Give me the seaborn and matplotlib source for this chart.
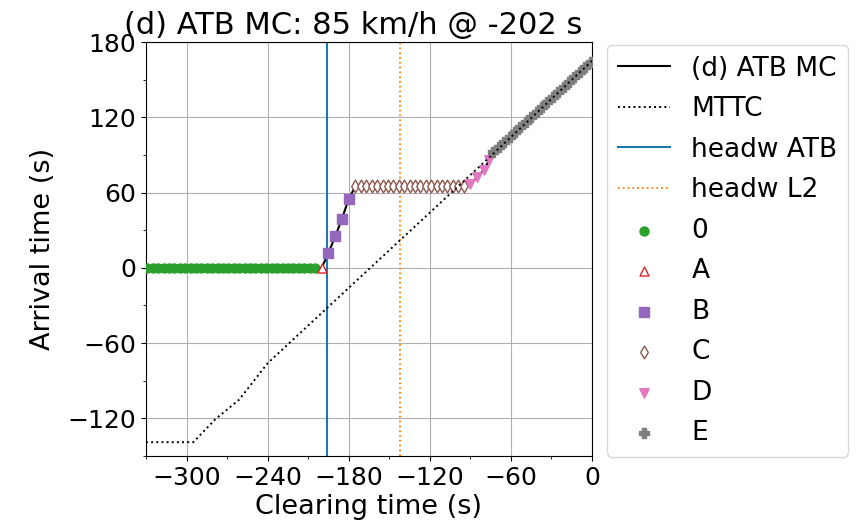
import matplotlib
matplotlib.use("Agg")
import matplotlib.pyplot as plt
from matplotlib.ticker import AutoMinorLocator
import pandas as pd
import seaborn as sns

title = "(d) ATB MC: 85 km/h @ -202 s"
xlabel = "Clearing time (s)"
ylabel = "Arrival time (s)"

zero_x = [-329, -325, -321, -317, -313, -309, -305, -301, -297, -293, -289,
          -285, -281, -277, -273, -269, -265, -261, -257, -253, -249, -245,
          -241, -237, -233, -229, -225, -221, -217, -213, -209, -205]
zero_y = [0] * len(zero_x)

a_x = [-200]
a_y = [0]

b_x = [-195, -190, -185, -180]
b_y = [12, 25, 39, 55]

c_x = [-175, -171, -167, -163, -159, -155, -151, -147, -143, -139, -135,
       -131, -127, -123, -119, -115, -111, -107, -103, -99, -95]
c_y = [65] * len(c_x)

d_x = [-90, -85, -80, -76]
d_y = [67, 72, 78, 86]

e_x = [-73, -69, -65, -61, -57, -53, -49, -45, -41, -37, -33, -29, -25, -21,
       -17, -13, -9, -5, -1]
e_y = [92, 96, 100, 104, 108, 112, 116, 120, 124, 128, 132, 136, 140, 144,
       148, 152, 156, 160, 164]

mttc_x = [-330, -295, -279, -261, -240, -73, 0]
mttc_y = [-139, -139, -121, -105, -76, 91, 165]

headw_atb = -196
headw_l2 = -142

xticks = [-300, -240, -180, -120, -60, 0]
yticks = [-120, -60, 0, 60, 120, 180]

main_df = pd.DataFrame({
    "x": zero_x + a_x + b_x + c_x + d_x + e_x,
    "y": zero_y + a_y + b_y + c_y + d_y + e_y,
})
mttc_df = pd.DataFrame({"x": mttc_x, "y": mttc_y})

fig = plt.figure(figsize=(8.66, 5.25), dpi=100)
ax = fig.add_axes([146 / 866, 1 - 456 / 525, (592 - 146) / 866, (456 - 42) / 525])

sns.lineplot(data=main_df, x="x", y="y", sort=False, estimator=None,
             color="black", linewidth=1.5, label="(d) ATB MC", ax=ax, zorder=2)
sns.lineplot(data=mttc_df, x="x", y="y", sort=False, estimator=None,
             color="black", linewidth=1.4, linestyle=":", label="MTTC", ax=ax, zorder=4)
ax.axvline(headw_atb, color="tab:blue", linewidth=1.5, label="headw ATB", zorder=2)
ax.axvline(headw_l2, color="tab:orange", linewidth=1.3, linestyle=":", label="headw L2", zorder=2)

series = [
    ("0", zero_x, zero_y, "o", "tab:green", "tab:green", 42),
    ("A", a_x, a_y, "^", "white", "tab:red", 42),
    ("B", b_x, b_y, "s", "tab:purple", "tab:purple", 42),
    ("C", c_x, c_y, "d", "white", "tab:brown", 42),
    ("D", d_x, d_y, "v", "tab:pink", "tab:pink", 46),
    ("E", e_x, e_y, "P", "tab:gray", "tab:gray", 50),
]
for lab, xs, ys, mk, fc, ec, sz in series:
    sns.scatterplot(x=xs, y=ys, marker=mk, s=sz, color=ec, facecolor=fc,
                    edgecolor=ec, linewidth=1.0, label=lab, ax=ax, zorder=3)

ax.set_xlim(-330, 0)
ax.set_ylim(-150, 180)
ax.set_xticks(xticks)
ax.set_yticks(yticks)
ax.xaxis.set_minor_locator(AutoMinorLocator(2))
ax.yaxis.set_minor_locator(AutoMinorLocator(2))
ax.tick_params(axis="both", which="major", labelsize=18)
ax.grid(True, which="major", color="#b0b0b0", linewidth=0.8)
ax.set_axisbelow(True)

ax.set_xlabel(xlabel, fontsize=19.5, labelpad=3)
ax.set_ylabel(ylabel, fontsize=19.5, labelpad=8)
t = ax.set_title(title, fontsize=22)
t.set_x(0.464)

leg = ax.legend(loc="upper left", bbox_to_anchor=(607 / 866, 1 - 45 / 525),
                bbox_transform=fig.transFigure, borderaxespad=0,
                fontsize=19, handlelength=2.0, labelspacing=0.55)

fig.savefig("out.png", dpi=100)
